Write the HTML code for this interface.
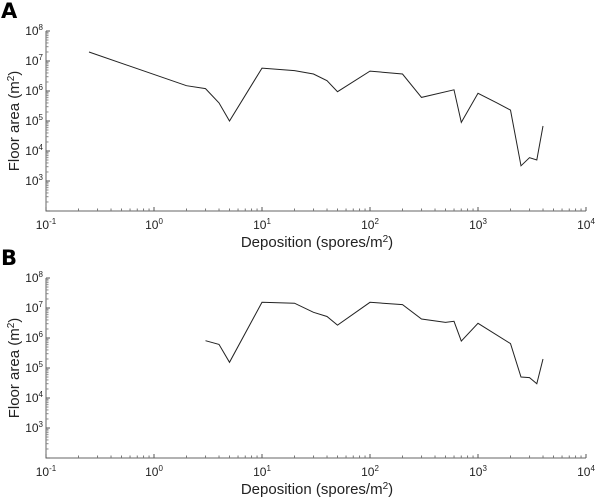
<!DOCTYPE html>
<html><head><meta charset="utf-8"><style>
html,body{margin:0;padding:0;background:#fff;}
svg{display:block;font-family:"Liberation Sans",Arial,sans-serif;}
</style></head><body>
<svg id="chart" width="600" height="502" viewBox="0 0 600 502" xmlns="http://www.w3.org/2000/svg"></svg>
<script>
const xTickExps = [-1, 0, 1, 2, 3, 4];
const yTickExps = [3, 4, 5, 6, 7, 8];
const depositionA = [0.25, 2, 3, 4, 5, 10, 20, 30, 40, 50, 100, 200, 300, 600, 700, 1000, 1500, 2000, 2500, 3000, 3500, 4000];
const floorAreaA = [2e7, 1.5e6, 1.2e6, 4e5, 1e5, 5.8e6, 4.8e6, 3.7e6, 2.2e6, 9.5e5, 4.6e6, 3.7e6, 6.1e5, 1.1e6, 9e4, 8.4e5, 4e5, 2.3e5, 3.2e3, 6e3, 5e3, 6.8e4];
const depositionB = [3, 4, 5, 10, 20, 30, 40, 50, 100, 200, 300, 500, 600, 700, 1000, 2000, 2500, 3000, 3500, 4000];
const floorAreaB = [8.1e5, 6.1e5, 1.55e5, 1.55e7, 1.45e7, 7.2e6, 5.2e6, 2.7e6, 1.55e7, 1.3e7, 4.3e6, 3.3e6, 3.6e6, 7.9e5, 3.1e6, 6.5e5, 5e4, 4.8e4, 3e4, 2e5];

const NS = "http://www.w3.org/2000/svg";
const svg = document.getElementById('chart');
function mk(tag, attrs, parent) {
  const e = document.createElementNS(NS, tag);
  for (const k in attrs) e.setAttribute(k, attrs[k]);
  (parent || svg).appendChild(e);
  return e;
}
const X0 = 46, DEC_X = 108, XMIN = -1;
function xScale(v) { return X0 + (Math.log10(v) - XMIN) * DEC_X; }

function panel(letter, top, xs, ys, key) {
  const g = mk('g', {});
  
  
  const yTop = top, yBot = top + 180;
  const yScale = v => yTop + (8 - Math.log10(v)) * 30;
  const lt = mk('text', {x: 1, y: top - 13, 'font-size': 21, 'font-weight': 'bold', 'font-family': '"DejaVu Sans","Liberation Sans",sans-serif'}, g);
  lt.textContent = letter;
  
  
  const ax = mk('path', {d: `M${X0} ${yTop} V${yBot} H${xScale(1e4)}`, stroke: '#666', 'stroke-width': 1, fill: 'none'}, g);
  
  
  for (let e = -1; e <= 4; e++) {
    const xx = xScale(Math.pow(10, e));
    mk('line', {x1: xx, x2: xx, y1: yBot, y2: yBot - 4, stroke: '#555'}, g);
    if (e < 4) for (let m = 2; m <= 9; m++) {
      const xm = xScale(m * Math.pow(10, e));
      mk('line', {x1: xm, x2: xm, y1: yBot, y2: yBot - 2.5, stroke: '#777'}, g);
    }
  }
  xTickExps.forEach(e => {
    const t = mk('text', {x: xScale(Math.pow(10, e)), y: yBot + 18, 'font-size': 12, 'text-anchor': 'middle', fill: '#222'}, g);
    
    
    t.innerHTML = `10<tspan dy="-5" font-size="8">${e}</tspan>`;
  });
  for (let e = 2; e <= 8; e++) {
    const yy = yScale(Math.pow(10, e));
    mk('line', {x1: X0, x2: X0 + 4, y1: yy, y2: yy, stroke: '#555'}, g);
    if (e < 8) for (let m = 2; m <= 9; m++) {
      const ym = yScale(m * Math.pow(10, e));
      mk('line', {x1: X0, x2: X0 + 2.5, y1: ym, y2: ym, stroke: '#888'}, g);
    }
  }
  yTickExps.forEach(e => {
    const t = mk('text', {x: 43, y: yScale(Math.pow(10, e)) + 4, 'font-size': 12, 'text-anchor': 'end', fill: '#222'}, g);
    
    
    t.innerHTML = `10<tspan dy="-5" font-size="8">${e}</tspan>`;
  });
  const yt = mk('text', {x: 0, y: 0, 'font-size': 15, 'text-anchor': 'middle', fill: '#222', transform: `translate(19 ${top + 90}) rotate(-90)`}, g);
  
  
  yt.innerHTML = 'Floor area (m<tspan dy="-5" font-size="10">2</tspan><tspan dy="5">)</tspan>';
  const xt = mk('text', {x: 317, y: yBot + 36, 'font-size': 15, 'text-anchor': 'middle', fill: '#222'}, g);
  
  
  xt.innerHTML = 'Deposition (spores/m<tspan dy="-5" font-size="10">2</tspan><tspan dy="5">)</tspan>';
  const pts = xs.map((x, i) => xScale(x).toFixed(1) + ',' + yScale(ys[i]).toFixed(1)).join(' ');
  const line = mk('polyline', {points: pts, fill: 'none', stroke: '#222', 'stroke-width': 1}, g);
  
  
}
panel('A', 31, depositionA, floorAreaA, 'a');
panel('B', 278, depositionB, floorAreaB, 'b');
</script>
</body></html>
